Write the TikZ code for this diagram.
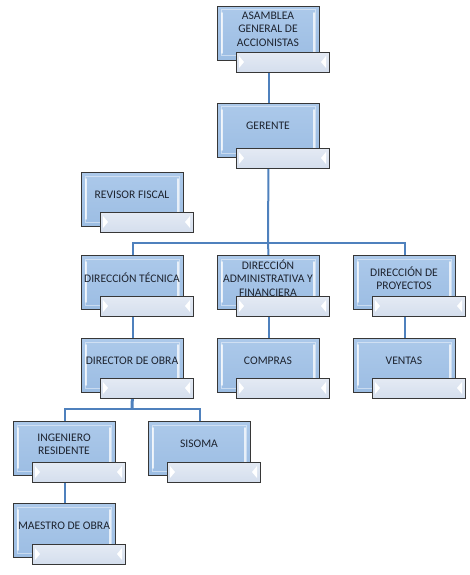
\documentclass[tikz,border=0pt]{standalone}
\usepackage{fontspec}
\setmainfont{Carlito}
\usetikzlibrary{backgrounds}
\definecolor{boxfill}{RGB}{156,189,227}
\definecolor{boxtop}{RGB}{172,201,234}
\definecolor{barfill}{RGB}{212,222,237}
\definecolor{bartop}{RGB}{228,234,244}
\definecolor{edgecol}{RGB}{55,55,55}
\definecolor{conncol}{RGB}{79,129,189}
\definecolor{textcol}{RGB}{30,36,48}
\tikzset{
  orgbox/.style={draw=edgecol, line width=1pt, top color=boxtop, bottom color=boxfill,
    minimum width=102pt, minimum height=54pt, inner sep=0pt, anchor=north west},
  orgbar/.style={draw=edgecol, line width=1pt, top color=bartop, bottom color=barfill,
    minimum width=93pt, minimum height=20pt, inner sep=0pt, anchor=north west},
  orgtext/.style={font=\fontsize{11.6}{13.3}\selectfont, align=center, text=textcol, inner sep=0pt},
  connector/.style={draw=conncol, line width=2pt},
  shine/.style={white, opacity=0.75, line width=1.6pt, line cap=round},
  softshine/.style={white, opacity=0.45, line width=1pt}
}
% [bar offset]{name}{x}{y}{text}
\newcommand\orgunit[5][41]{%
  \node[orgbox] (#2) at (#3,#4) {};
  \draw[softshine] (#3+4,#4+4) rectangle (#3+98,#4+50);
  \draw[shine] (#3+5,#4+7) -- (#3+5,#4+47);
  \draw[shine] (#3+97,#4+7) -- (#3+97,#4+47);
  \node[orgtext] (#2-t) at (#3+51,#4+23) {#5};
  \node[orgbar] (#2-b) at (#3+19,#4+#1) {};
  \fill[white] (#3+22,#4+#1+4) -- (#3+27,#4+#1+10) -- (#3+22,#4+#1+16) -- cycle;
  \fill[white] (#3+109,#4+#1+4) -- (#3+104,#4+#1+10) -- (#3+109,#4+#1+16) -- cycle;
}
\begin{document}
\begin{tikzpicture}[x=1pt,y=-1pt]
\useasboundingbox (0,0) rectangle (470,575);
\orgunit[46]{asamblea}{217}{6}{ASAMBLEA\\GENERAL DE\\ACCIONISTAS}
\orgunit[45]{gerente}{217}{103}{GERENTE}
\orgunit[40]{revisor}{81}{172}{REVISOR FISCAL}
\orgunit{tecnica}{81}{255}{DIRECCIÓN TÉCNICA}
\orgunit{admin}{217}{255}{DIRECCIÓN\\ADMINISTRATIVA Y\\FINANCIERA}
\orgunit{proyectos}{353}{255}{DIRECCIÓN DE\\PROYECTOS}
\orgunit[40]{director}{81}{338}{DIRECTOR DE OBRA}
\orgunit[40]{compras}{217}{338}{COMPRAS}
\orgunit[40]{ventas}{353}{338}{VENTAS}
\orgunit{ingeniero}{13}{421}{INGENIERO\\RESIDENTE}
\orgunit{sisoma}{148}{421}{SISOMA}
\orgunit{maestro}{13}{503}{MAESTRO DE OBRA}
\coordinate (j1) at (268,243);
\coordinate (j2) at (132,409);
\begin{scope}[on background layer]
  \draw[connector] (asamblea.south) -- (gerente.north);
  \draw[connector] (gerente.south) -- (j1);
  \draw[connector] (tecnica.north) |- (j1) -| (proyectos.north);
  \draw[connector] (j1) -- (admin.north);
  \draw[connector] (tecnica.south) -- (director.north);
  \draw[connector] (admin.south) -- (compras.north);
  \draw[connector] (proyectos.south) -- (ventas.north);
  \draw[connector, line width=3pt] (director.south) -- (j2);
  \draw[connector] (ingeniero.north) |- (j2) -| (sisoma.north);
  \draw[connector] (ingeniero.south) -- (maestro.north);
\end{scope}
\end{tikzpicture}
\end{document}
